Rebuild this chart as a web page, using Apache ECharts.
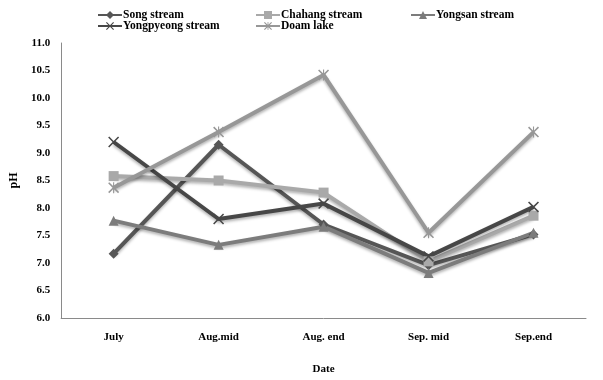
<!DOCTYPE html>
<html><head><meta charset="utf-8">
<script src="https://cdn.jsdelivr.net/npm/echarts@6/dist/echarts.min.js"></script>
<style>html,body{margin:0;padding:0;background:#fff}#c{width:603px;height:380px}</style>
</head><body><div id="c"></div>
<script>
var categories = ['July', 'Aug.mid', 'Aug. end', 'Sep. mid', 'Sep.end'];
var songStream = [7.17, 9.15, 7.7, 6.96, 7.52];
var chahangStream = [8.58, 8.5, 8.28, 7.03, 7.86];
var yongsanStream = [7.77, 7.33, 7.66, 6.82, 7.55];
var yongpyeongStream = [9.2, 7.8, 8.08, 7.12, 8.02];
var doamLake = [8.37, 9.38, 10.42, 7.55, 9.38];
var seriesNames = ['Song stream', 'Chahang stream', 'Yongsan stream', 'Yongpyeong stream', 'Doam lake'];
var yTicks = ['6.0','6.5','7.0','7.5','8.0','8.5','9.0','9.5','10.0','10.5','11.0'];

var font = 'Liberation Serif';
var xPath = 'path://M1,0 L5,4 L9,0 L10,1 L6,5 L10,9 L9,10 L5,6 L1,10 L0,9 L4,5 L0,1 Z';
var starPath = 'path://M1,0 L4.5,3.5 L4.5,0 L5.5,0 L5.5,3.5 L9,0 L10,1 L6,5 L10,9 L9,10 L5.5,6.5 L5.5,10 L4.5,10 L4.5,6.5 L1,10 L0,9 L4,5 L0,1 Z';
var defs = [
  {data: songStream, color: '#565656', symbol: 'diamond', size: 10},
  {data: chahangStream, color: '#a9a9a9', symbol: 'rect', size: 10},
  {data: yongsanStream, color: '#7c7c7c', symbol: 'triangle', size: 10},
  {data: yongpyeongStream, color: '#474747', symbol: xPath, size: 11},
  {data: doamLake, color: '#979797', symbol: starPath, size: 11}
];
var series = defs.map(function (d, i) {
  return {
    name: seriesNames[i], type: 'line', data: d.data,
    symbol: d.symbol, symbolSize: d.size, showSymbol: true,
    lineStyle: {width: 4, color: d.color, shadowColor: 'rgba(0,0,0,0.3)', shadowBlur: 3, shadowOffsetY: 2},
    itemStyle: {color: d.color},
    animation: false
  };
});
var legendPos = [[97, 9], [255, 9], [410, 9], [97, 20], [255, 20]];
var legends = seriesNames.map(function (n, i) {
  return {
    data: [n], left: legendPos[i][0], top: legendPos[i][1], itemWidth: 24, itemHeight: 10, itemGap: 2,
    textStyle: {fontFamily: font, fontWeight: 'bold', fontSize: 11.5, color: '#000', padding: [0,0,0,-4]},
    padding: 0
  };
});
var chart = echarts.init(document.getElementById('c'));
chart.setOption({
  backgroundColor: '#fff',
  legend: legends,
  grid: {left: 55, right: 17, top: 43, bottom: 55},
  xAxis: {
    type: 'category', data: categories, boundaryGap: true,
    name: 'Date', nameLocation: 'middle', nameGap: 46,
    nameTextStyle: {fontFamily: font, fontWeight: 'bold', fontSize: 11, color: '#000'},
    axisLine: {lineStyle: {color: '#8a8a8a', width: 1}},
    axisTick: {show: false},
    axisLabel: {fontFamily: font, fontWeight: 'bold', fontSize: 11, color: '#000', margin: 14}
  },
  yAxis: {
    type: 'value', min: 6, max: 11, interval: 0.5,
    name: 'pH', nameLocation: 'middle', nameGap: 36, nameRotate: 90,
    nameTextStyle: {fontFamily: font, fontWeight: 'bold', fontSize: 12, color: '#000'},
    axisLine: {show: true, lineStyle: {color: '#8a8a8a', width: 1}},
    axisTick: {show: false},
    splitLine: {show: false},
    axisLabel: {fontFamily: font, fontWeight: 'bold', fontSize: 11, color: '#000', margin: 11,
      formatter: function (v) { return yTicks[Math.round((v - 6) / 0.5)]; }}
  },
  series: series
});
</script></body></html>
